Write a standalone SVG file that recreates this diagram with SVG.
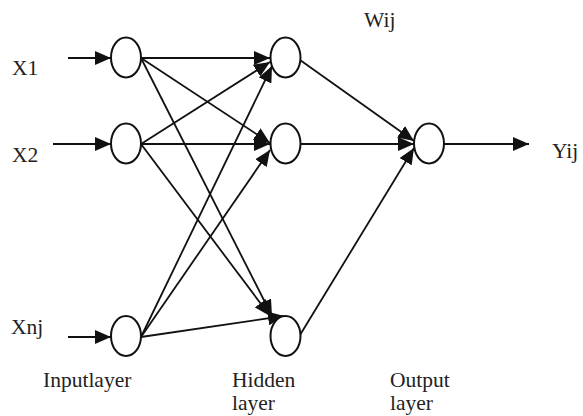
<svg xmlns="http://www.w3.org/2000/svg" width="583" height="416" viewBox="0 0 583 416">
<style>
.n{fill:#fff;stroke:#111;stroke-width:2}
.e{stroke:#111;stroke-width:1.8;fill:none;marker-end:url(#ah)}
text{font-family:"Liberation Serif","Times New Roman",serif;font-size:21.5px;fill:#222}
</style>
<defs>
<marker id="ah" markerUnits="userSpaceOnUse" markerWidth="18" markerHeight="14" refX="16" refY="7" orient="auto">
<path d="M0,0 L16,7 L0,14 Z" fill="#111"/>
</marker>
</defs>
<g id="connectors">
<line class="e" x1="68" y1="58" x2="111" y2="58"/>
<line class="e" x1="53" y1="144" x2="111" y2="144"/>
<line class="e" x1="68" y1="337" x2="111" y2="337"/>
<line class="e" x1="141" y1="58" x2="270" y2="58"/>
<line class="e" x1="141" y1="58" x2="270" y2="143"/>
<line class="e" x1="141" y1="58" x2="272" y2="316"/>
<line class="e" x1="141" y1="144" x2="270" y2="62"/>
<line class="e" x1="141" y1="144" x2="270" y2="144"/>
<line class="e" x1="141" y1="144" x2="270" y2="316"/>
<line class="e" x1="141" y1="337" x2="272" y2="66"/>
<line class="e" x1="141" y1="337" x2="270" y2="150"/>
<line class="e" x1="141" y1="337" x2="284" y2="316"/>
<line class="e" x1="300" y1="60" x2="414" y2="141"/>
<line class="e" x1="301" y1="144" x2="414" y2="144"/>
<line class="e" x1="300" y1="335" x2="414" y2="148"/>
<line class="e" x1="444" y1="144" x2="529" y2="144"/>
</g>
<g id="in1"><ellipse class="n" cx="126" cy="57.5" rx="15" ry="20"/></g>
<g id="in2"><ellipse class="n" cx="126" cy="143.5" rx="15" ry="20"/></g>
<g id="in3"><ellipse class="n" cx="126" cy="336" rx="15" ry="20"/></g>
<g id="h1"><ellipse class="n" cx="285.5" cy="57.5" rx="15" ry="20"/></g>
<g id="h2"><ellipse class="n" cx="285.5" cy="143.5" rx="15" ry="20"/></g>
<g id="h3"><ellipse class="n" cx="285.5" cy="336" rx="15" ry="20"/></g>
<g id="out"><ellipse class="n" cx="429" cy="143.5" rx="15" ry="20"/></g>
<g id="labels">
<text x="12" y="75">X1</text>
<text x="12" y="162">X2</text>
<text x="11" y="334">Xnj</text>
<text x="364" y="27">Wij</text>
<text x="552" y="158">Yij</text>
<text x="43" y="387">Inputlayer</text>
<text x="232" y="387">Hidden</text>
<text x="232" y="410">layer</text>
<text x="390" y="387">Output</text>
<text x="390" y="410">layer</text>
</g>
</svg>
